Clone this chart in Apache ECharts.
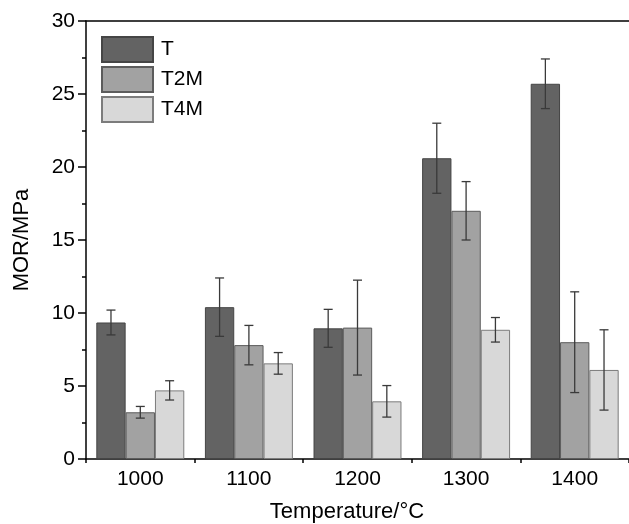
<!DOCTYPE html>
<html>
<head>
<meta charset="utf-8">
<script src="https://cdn.jsdelivr.net/npm/echarts@6/dist/echarts.min.js"></script>
<style>html,body{margin:0;padding:0;background:#fff;}#c{width:629px;height:524px;}</style>
</head>
<body>
<div id="c"></div>
<script>
const categories = ['1000', '1100', '1200', '1300', '1400'];
const seriesNames = ['T', 'T2M', 'T4M'];
const valT = [9.35, 10.4, 8.95, 20.6, 25.7];
const valT2M = [3.2, 7.8, 9.0, 17.0, 8.0];
const valT4M = [4.7, 6.55, 3.95, 8.85, 6.1];
const errT = [0.85, 2.0, 1.3, 2.4, 1.7];
const errT2M = [0.4, 1.35, 3.25, 2.0, 3.45];
const errT4M = [0.66, 0.74, 1.08, 0.84, 2.75];
const yTicks = [0, 5, 10, 15, 20, 25, 30];

const FONT = "'Liberation Sans', Arial, Helvetica, sans-serif";
const fills = ['#636363', '#a2a2a2', '#d8d8d8'];
const borders = ['#454545', '#5c5c5c', '#7c7c7c'];
const values = [valT, valT2M, valT4M];
const errs = [errT, errT2M, errT4M];
const GAP = 0.19;

const errData = [];
values.forEach((arr, s) => {
  arr.forEach((v, i) => {
    errData.push([i, v - errs[s][i], v + errs[s][i], s]);
  });
});

const chart = echarts.init(document.getElementById('c'), null, {renderer: 'canvas'});
const option = {
  animation: false,
  textStyle: {fontFamily: FONT},
  grid: {left: 86, right: 0, top: 21, bottom: 65, containLabel: false},
  legend: {
    data: seriesNames,
    orient: 'vertical',
    left: 101,
    top: 36,
    padding: 0,
    itemWidth: 51,
    itemHeight: 25,
    itemGap: 3,
    icon: 'rect',
    textStyle: {fontSize: 21, color: '#000', fontFamily: FONT, padding: [0, 0, 0, 3]}
  },
  xAxis: [
    {
      type: 'category',
      data: categories,
      position: 'bottom',
      boundaryGap: true,
      axisLine: {lineStyle: {color: '#000', width: 1.5}},
      axisTick: {alignWithLabel: true, length: 8, lineStyle: {color: '#000', width: 1.5}},
      axisLabel: {fontSize: 21, color: '#000', margin: 10, fontFamily: FONT},
      splitLine: {show: false}
    },
    {
      type: 'category',
      data: categories,
      position: 'bottom',
      boundaryGap: true,
      axisLine: {show: false},
      axisTick: {show: true, length: 4, lineStyle: {color: '#000', width: 1.5}},
      axisLabel: {show: false},
      splitLine: {show: false}
    },
    {
      type: 'category',
      data: categories,
      position: 'top',
      axisLine: {show: true, lineStyle: {color: '#000', width: 1.5}},
      axisTick: {show: false},
      axisLabel: {show: false}
    }
  ],
  yAxis: {
    type: 'value',
    min: yTicks[0],
    max: yTicks[yTicks.length - 1],
    interval: 5,
    name: 'MOR/MPa',
    nameLocation: 'middle',
    nameGap: 53,
    nameTextStyle: {fontSize: 22, color: '#000', fontFamily: FONT},
    axisLine: {show: true, lineStyle: {color: '#000', width: 1.5}},
    axisTick: {show: true, length: 8, lineStyle: {color: '#000', width: 1.5}},
    minorTick: {show: true, splitNumber: 2, length: 4, lineStyle: {color: '#000', width: 1.5}},
    axisLabel: {fontSize: 21, color: '#000', margin: 11, fontFamily: FONT},
    splitLine: {show: false}
  },
  graphic: [{
    type: 'text',
    x: 347,
    y: 512,
    style: {text: 'Temperature/°C', fontSize: 22, fill: '#000', fontFamily: FONT, textAlign: 'center', textVerticalAlign: 'middle'}
  }],
  series: seriesNames.map((n, s) => ({
    name: n,
    type: 'bar',
    data: values[s],
    barGap: '0%',
    barCategoryGap: (GAP * 100) + '%',
    itemStyle: {color: fills[s], borderColor: borders[s], borderWidth: 1}
  })).concat([{
    type: 'custom',
    name: 'err',
    data: errData,
    z: 10,
    encode: {x: 0, y: [1, 2]},
    renderItem: function (params, api) {
      const idx = api.value(0), lo = api.value(1), hi = api.value(2), s = api.value(3);
      const catW = api.size([1, 0])[0];
      const bw = catW * (1 - GAP) / 3;
      const pLo = api.coord([idx, lo]);
      const pHi = api.coord([idx, hi]);
      const x = pLo[0] + (s - 1) * bw;
      const hw = 4.5;
      const st = {stroke: '#3a3a3a', lineWidth: 1.3, fill: null};
      return {
        type: 'group',
        children: [
          {type: 'line', shape: {x1: x, y1: pLo[1], x2: x, y2: pHi[1]}, style: st},
          {type: 'line', shape: {x1: x - hw, y1: pLo[1], x2: x + hw, y2: pLo[1]}, style: st},
          {type: 'line', shape: {x1: x - hw, y1: pHi[1], x2: x + hw, y2: pHi[1]}, style: st}
        ]
      };
    }
  }])
};
chart.setOption(option);
</script>
</body>
</html>
